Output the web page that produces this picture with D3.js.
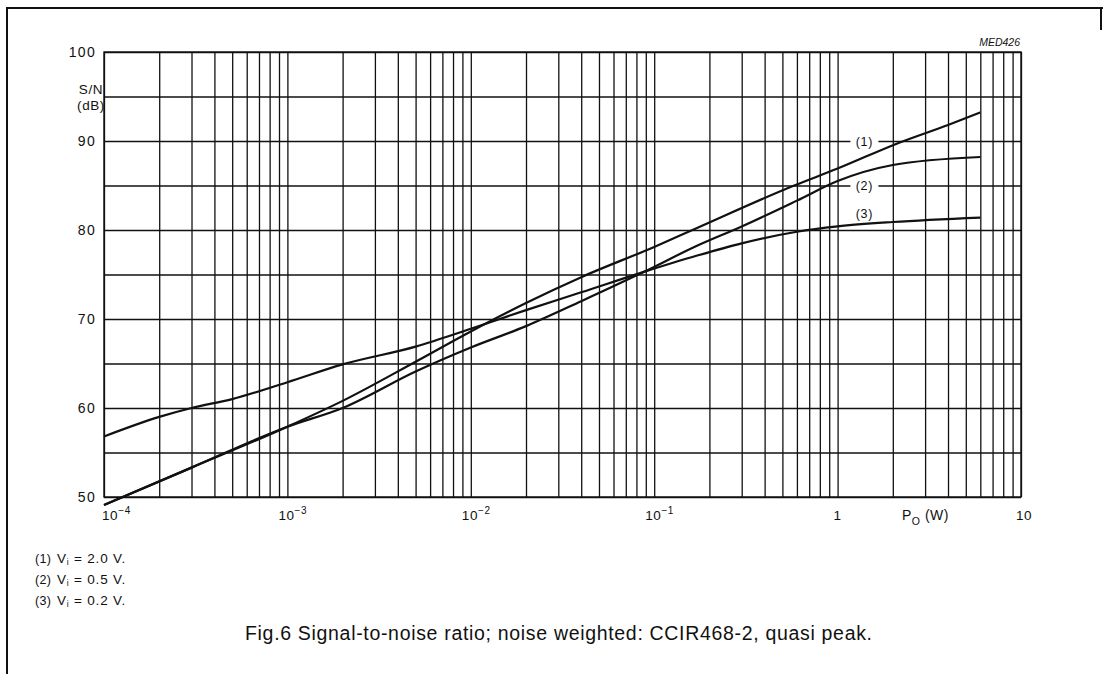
<!DOCTYPE html>
<html>
<head>
<meta charset="utf-8">
<script src="https://cdnjs.cloudflare.com/ajax/libs/d3/7.8.5/d3.min.js"></script>
<style>
  body { margin: 0; background: #fff; }
  svg { display: block; font-family: "Liberation Sans", Arial, Helvetica, sans-serif; }
</style>
</head>
<body>
<div class="chart"></div>
<script>
// curve (1) Vi = 2.0 V
var power1 = [1e-4, 3e-4, 1e-3, 2e-3, 5e-3, 1e-2, 2e-2, 4e-2, 0.1, 0.17, 0.58, 1, 2.1, 4, 6];
var snr1   = [49.1, 53.3, 57.9, 60.8, 65.2, 68.6, 71.8, 74.7, 78.1, 80.2, 85.0, 86.9, 89.7, 91.8, 93.2];
// curve (2) Vi = 0.5 V
var power2 = [1e-4, 3e-4, 1e-3, 2e-3, 5e-3, 1e-2, 2e-2, 4e-2, 0.088, 0.17, 0.3, 0.6, 1, 2, 6];
var snr2   = [49.1, 53.3, 57.9, 60.0, 64.1, 66.8, 69.2, 72.0, 75.3, 78.2, 80.4, 83.3, 85.5, 87.3, 88.2];
// curve (3) Vi = 0.2 V
var power3 = [1e-4, 2e-4, 3e-4, 5e-4, 1e-3, 2e-3, 5e-3, 1e-2, 2e-2, 4e-2, 0.088, 0.17, 0.3, 0.6, 1, 2, 6];
var snr3   = [56.8, 59.0, 60.0, 61.0, 62.9, 64.9, 66.9, 68.9, 71.0, 73.0, 75.3, 77.1, 78.5, 79.8, 80.4, 80.9, 81.4];

var seriesNames = ["(1)", "(2)", "(3)"];
var legendText = [" = 2.0 V.", " = 0.5 V.", " = 0.2 V."];

var xMajor = [1e-4, 1e-3, 1e-2, 1e-1, 1, 10];
var xBase  = ["10", "10", "10", "10", "1", "10"];
var xExp   = ["\u22124", "\u22123", "\u22122", "\u22121", "", ""];
var yLabels = [50, 60, 70, 80, 90, 100];

var W = 1103, H = 674;
var padLeft = 104, padTop = 52;
var w = 917, h = 445;
var ink = "#111";

var svg = d3.select(".chart").append("svg")
    .attr("width", W).attr("height", H);

// page frame
svg.append("path")
    .attr("d", "M7,674 L7,8 L1103,8 M1101,8 L1101,30")
    .attr("fill", "none").attr("stroke", ink).attr("stroke-width", 2);

var g = svg.append("g").attr("transform", `translate(${padLeft},${padTop})`);

var x = d3.scaleLog().domain([1e-4, 10]).range([0, w]);
var y = d3.scaleLinear().domain([50, 100]).range([h, 0]);

// grid positions: 1..9 in every decade
var gridX = [];
for (var e = -4; e < 1; e++) {
  for (var m = 1; m < 10; m++) gridX.push(m * Math.pow(10, e));
}
gridX.push(10);
var gridY = d3.range(50, 101, 5);

g.append("g")
  .attr("transform", `translate(0,${h})`)
  .call(d3.axisBottom(x).tickValues(gridX).tickSize(-h).tickFormat(""))
  .call(a => {
    a.select(".domain").remove();
    a.selectAll("line").attr("stroke", ink).attr("stroke-width", 1.3);
  });

g.append("g")
  .call(d3.axisLeft(y).tickValues(gridY).tickSize(-w)
        .tickFormat(d => yLabels.indexOf(d) >= 0 ? d : ""))
  .call(a => {
    a.select(".domain").remove();
    a.selectAll("line").attr("stroke", ink).attr("stroke-width", 1.3);
    a.selectAll("text")
      .attr("x", -8)
      .attr("fill", ink)
      .style("font-size", "14px")
      .style("letter-spacing", "1.3px")
      .style("font-family", "Liberation Sans, Arial, sans-serif");
  });

g.append("rect")
  .attr("width", w).attr("height", h)
  .attr("fill", "none").attr("stroke", ink).attr("stroke-width", 1.4);

// x tick labels
var xl = g.append("g").attr("class", "xlabels");
xMajor.forEach(function (v, i) {
  var t = xl.append("text")
    .attr("y", h + 23)
    .attr("fill", ink)
    .style("font-size", "13.5px")
    .style("letter-spacing", "0.6px");
  if (xExp[i]) {
    t.attr("x", Math.max(x(v) - 9, -2));
    t.append("tspan").text(xBase[i]);
    t.append("tspan").attr("dy", -6).style("font-size", "10px").text(xExp[i]);
  } else {
    t.attr("x", x(v) + (xBase[i] === "10" ? 3 : 0)).attr("text-anchor", "middle").text(xBase[i]);
  }
});

// axis titles
var xt = g.append("text").attr("x", 798).attr("y", h + 23).attr("fill", ink)
  .style("font-size", "14px").style("letter-spacing", "0.5px");
xt.append("tspan").text("P");
xt.append("tspan").attr("dy", 5).style("font-size", "10.5px").text("O");
xt.append("tspan").attr("dy", -5).text(" (W)");

g.append("text").attr("x", -13).attr("y", 42).attr("text-anchor", "middle")
  .attr("fill", ink).style("font-size", "13.5px").style("letter-spacing", "0.6px").text("S/N");
g.append("text").attr("x", -13).attr("y", 58).attr("text-anchor", "middle")
  .attr("fill", ink).style("font-size", "13.5px").style("letter-spacing", "0.6px").text("(dB)");

svg.append("text").attr("x", 1020).attr("y", 46).attr("text-anchor", "end")
  .attr("fill", ink).style("font-size", "10.5px").style("font-style", "italic")
  .text("MED426");

// curves
var line = d3.line()
  .x(d => x(d[0]))
  .y(d => y(d[1]))
  .curve(d3.curveMonotoneX);

var curves = [d3.zip(power1, snr1), d3.zip(power2, snr2), d3.zip(power3, snr3)];
g.selectAll(".curve")
  .data(curves)
  .enter().append("path")
  .attr("class", "curve")
  .attr("fill", "none")
  .attr("stroke", ink)
  .attr("stroke-width", 2.2)
  .attr("stroke-linejoin", "round")
  .attr("d", line);

// curve labels inside the plot
var labelPos = [[1.4, 90], [1.4, 85], [1.4, 81.9]];
seriesNames.forEach(function (s, i) {
  var lx = x(labelPos[i][0]), ly = y(labelPos[i][1]);
  if (i < 2) {
    g.append("rect").attr("x", lx - 14).attr("y", ly - 6).attr("width", 28).attr("height", 12).attr("fill", "#fff");
  }
  g.append("text").attr("x", lx).attr("y", ly + 4.5).attr("text-anchor", "middle")
    .attr("fill", ink).style("font-size", "12.5px").style("letter-spacing", "0.6px").text(s);
});

// legend below the chart
seriesNames.forEach(function (s, i) {
  var ty = 563 + i * 21;
  svg.append("text").attr("x", 35).attr("y", ty).attr("fill", ink)
    .style("font-size", "12.5px").style("letter-spacing", "0.3px").text(s);
  var t = svg.append("text").attr("x", 57).attr("y", ty).attr("fill", ink)
    .style("font-size", "13.5px").style("letter-spacing", "0.8px");
  t.append("tspan").text("V");
  t.append("tspan").attr("dy", 2).style("font-size", "8.5px").text("i");
  t.append("tspan").attr("dy", -2).text(legendText[i]);
});

// caption
svg.append("text").attr("x", 245).attr("y", 640).attr("fill", ink)
  .style("font-size", "19.5px")
  .attr("textLength", 627).attr("lengthAdjust", "spacing")
  .text("Fig.6  Signal-to-noise ratio; noise weighted: CCIR468-2, quasi peak.");
</script>
</body>
</html>
